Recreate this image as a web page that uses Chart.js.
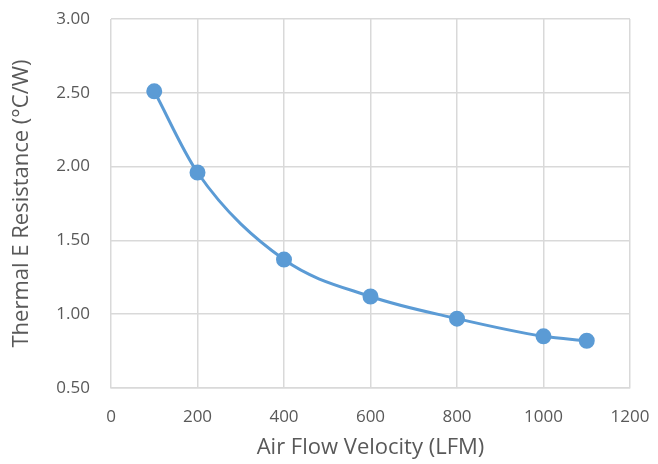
<!DOCTYPE html>
<html>
<head>
<meta charset="utf-8">
<script src="https://cdn.jsdelivr.net/npm/chart.js@4"></script>
<style>
html,body{margin:0;padding:0;background:#fff;}
#wrap{width:658px;height:464px;position:relative;}
</style>
</head>
<body>
<div id="wrap"><canvas id="c" width="658" height="464"></canvas></div>
<script>
const velocity = [100, 200, 400, 600, 800, 1000, 1100];
const resistance = [2.51, 1.96, 1.37, 1.12, 0.97, 0.85, 0.82];
const xTitle = 'Air Flow Velocity (LFM)';
const yTitle = 'Thermal E Resistance (°C/W)';

const pts = velocity.map((v, i) => ({x: v, y: resistance[i]}));
const font = "'Open Sans', 'Liberation Sans', sans-serif";

new Chart(document.getElementById('c'), {
  type: 'scatter',
  data: {
    datasets: [{
      data: pts,
      showLine: true,
      borderColor: '#5b9bd5',
      backgroundColor: '#5b9bd5',
      borderWidth: 3,
      pointRadius: 6.5,
      pointHoverRadius: 6.5,
      cubicInterpolationMode: 'monotone'
    }]
  },
  options: {
    responsive: false,
    animation: false,
    layout: {padding: {top: 19, right: 28, left: 9, bottom: 0}},
    plugins: {legend: {display: false}, tooltip: {enabled: false}},
    scales: {
      x: {
        type: 'linear', min: 0, max: 1200,
        ticks: {stepSize: 200, color: '#595959', font: {family: font, size: 17}, padding: 19,
          maxRotation: 0, callback: v => String(v)},
        grid: {color: '#d9d9d9', lineWidth: 1.5, drawTicks: false},
        border: {color: '#d9d9d9', width: 1.5},
        title: {display: true, text: xTitle, color: '#595959', font: {family: font, size: 22}, padding: {top: 6, bottom: 3}},
        afterFit: s => { s.height = 76; s.paddingLeft = 0; s.paddingRight = 0; }
      },
      y: {
        min: 0.5, max: 3.0,
        ticks: {stepSize: 0.5, color: '#595959', font: {family: font, size: 17}, padding: 21,
          callback: v => v.toFixed(2)},
        grid: {color: '#d9d9d9', lineWidth: 1.5, drawTicks: false},
        border: {display: false},
        title: {display: true, text: yTitle, color: '#595959', font: {family: font, size: 22}, padding: {top: 0, bottom: 0}},
        afterFit: s => { s.width = 102; s.paddingTop = 0; s.paddingBottom = 0; }
      }
    }
  }
});
</script>
</body>
</html>
